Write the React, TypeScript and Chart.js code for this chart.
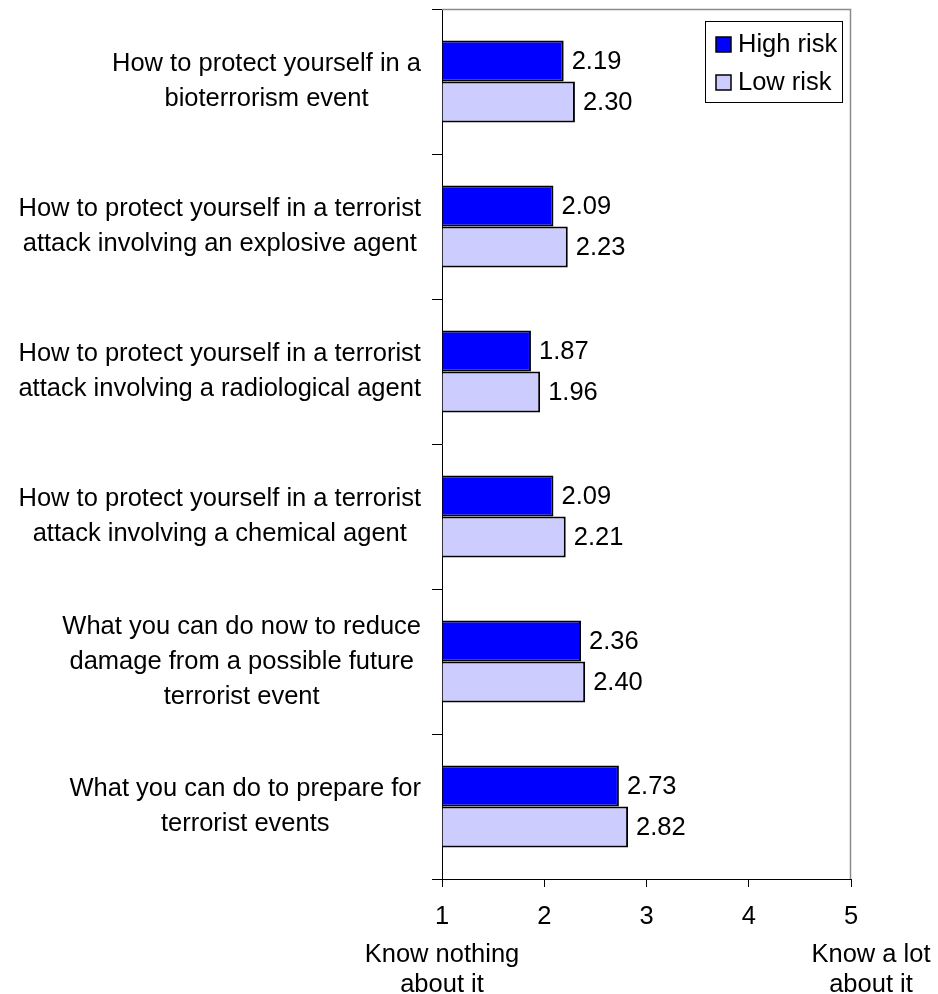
import React, { useEffect, useRef } from "react";
import { Chart, registerables } from "chart.js";

Chart.register(...registerables);

const categories: string[][] = [
  ["How to protect yourself in a", "bioterrorism event"],
  ["How to protect yourself in a terrorist", "attack involving an explosive agent"],
  ["How to protect yourself in a terrorist", "attack involving a radiological agent"],
  ["How to protect yourself in a terrorist", "attack involving a chemical agent"],
  ["What you can do now to reduce", "damage from a possible future", "terrorist event"],
  ["What you can do to prepare for", "terrorist events"],
];

const highRisk = [2.19, 2.09, 1.87, 2.09, 2.36, 2.73];
const lowRisk = [2.3, 2.23, 1.96, 2.21, 2.4, 2.82];

const seriesNames = ["High risk", "Low risk"];
const seriesColors = ["#0000FF", "#CCCCFF"];

const xMin = 1;
const xMax = 5;
const xStep = 1;
const xEndLabelLow = ["Know nothing", "about it"];
const xEndLabelHigh = ["Know a lot", "about it"];

const FONT = '"Liberation Sans", Arial, Helvetica, sans-serif';
const FS = 25.5;

const customPlugin = {
  id: "customDraw",
  beforeDatasetsDraw(chart: any) {
    const { ctx, chartArea } = chart;
    ctx.save();
    ctx.strokeStyle = "#8c8c8c";
    ctx.lineWidth = 1.5;
    ctx.beginPath();
    ctx.moveTo(chartArea.left, chartArea.top + 0.5);
    ctx.lineTo(chartArea.right - 0.5, chartArea.top + 0.5);
    ctx.lineTo(chartArea.right - 0.5, chartArea.bottom);
    ctx.stroke();
    ctx.restore();
  },
  afterDatasetsDraw(chart: any) {
    const { ctx } = chart;
    ctx.save();
    ctx.font = `${FS}px ${FONT}`;
    ctx.fillStyle = "#000";
    ctx.textAlign = "left";
    ctx.textBaseline = "middle";
    chart.data.datasets.forEach((ds: any, di: number) => {
      const meta = chart.getDatasetMeta(di);
      meta.data.forEach((el: any, i: number) => {
        ctx.fillText((ds.data[i] as number).toFixed(2), el.x + 8, el.y + 1);
      });
    });
    ctx.restore();
  },
  afterDraw(chart: any) {
    const { ctx, chartArea } = chart;
    const yScale = chart.scales.y;
    const xScale = chart.scales.x;
    ctx.save();
    ctx.font = `${FS}px ${FONT}`;
    ctx.fillStyle = "#000";
    ctx.textBaseline = "middle";
    ctx.textAlign = "center";
    // category labels
    categories.forEach((lines, i) => {
      const maxW = Math.max(...lines.map((l) => ctx.measureText(l).width));
      const cx = chartArea.left - 21 - maxW / 2;
      const cy = yScale.getPixelForValue(i);
      const lh = 35;
      const start = cy - ((lines.length - 1) * lh) / 2;
      lines.forEach((l, k) => ctx.fillText(l, cx, start + k * lh));
    });
    // x end labels
    const x1 = xScale.getPixelForValue(xMin);
    const x5 = xScale.getPixelForValue(xMax) + 20;
    xEndLabelLow.forEach((l, k) => ctx.fillText(l, x1, chartArea.bottom + 76 + k * 30));
    xEndLabelHigh.forEach((l, k) => ctx.fillText(l, x5, chartArea.bottom + 76 + k * 30));
    // legend
    const bx = chartArea.right - 146;
    const by = chartArea.top + 12;
    ctx.fillStyle = "#fff";
    ctx.fillRect(bx, by, 137, 81);
    ctx.strokeStyle = "#000";
    ctx.lineWidth = 1;
    ctx.strokeRect(bx + 0.5, by + 0.5, 137, 81);
    const rows = [by + 23, by + 61];
    seriesNames.forEach((name, k) => {
      ctx.fillStyle = seriesColors[k];
      ctx.fillRect(bx + 11, rows[k] - 7, 15, 15);
      ctx.strokeStyle = "#000";
      ctx.lineWidth = 1.5;
      ctx.strokeRect(bx + 11, rows[k] - 7, 15, 15);
      ctx.fillStyle = "#000";
      ctx.textAlign = "left";
      ctx.fillText(name, bx + 33, rows[k] + 1);
    });
    ctx.restore();
  },
};

export default function App() {
  const canvasRef = useRef<HTMLCanvasElement | null>(null);

  useEffect(() => {
    document.body.style.margin = "0";
    const canvas = canvasRef.current;
    if (!canvas) return;
    const chart = new Chart(canvas, {
      type: "bar",
      data: {
        labels: categories as any,
        datasets: [
          {
            label: seriesNames[0],
            data: highRisk,
            backgroundColor: seriesColors[0],
            borderColor: "#000",
            borderWidth: 2,
            base: xMin,
          } as any,
          {
            label: seriesNames[1],
            data: lowRisk,
            backgroundColor: seriesColors[1],
            borderColor: "#000",
            borderWidth: 2,
            base: xMin,
          } as any,
        ],
      },
      options: {
        indexAxis: "y",
        responsive: false,
        animation: false,
        devicePixelRatio: 1,
        layout: { padding: { left: 0, right: 87, top: 9, bottom: 0 } },
        datasets: {
          bar: { categoryPercentage: 0.565, barPercentage: 1 },
        } as any,
        plugins: {
          legend: { display: false },
          tooltip: { enabled: false },
        },
        scales: {
          x: {
            type: "linear",
            min: xMin,
            max: xMax,
            ticks: {
              stepSize: xStep,
              color: "#000",
              padding: 15,
              font: { family: FONT, size: FS },
            },
            grid: {
              drawOnChartArea: false,
              drawTicks: true,
              tickLength: 8,
              color: "#000",
            },
            border: { display: true, color: "#000", width: 1 },
            afterFit: (s: any) => {
              s.height = 115;
            },
          },
          y: {
            type: "category",
            offset: true,
            ticks: { display: false },
            grid: {
              drawOnChartArea: false,
              drawTicks: true,
              tickLength: 10,
              color: "#000",
              offset: true,
            },
            border: { display: true, color: "#000", width: 1 },
            afterFit: (s: any) => {
              s.width = 442;
            },
          },
        },
      },
      plugins: [customPlugin],
    });
    return () => chart.destroy();
  }, []);

  return (
    <div style={{ width: 938, height: 994, position: "relative" }}>
      <canvas ref={canvasRef} width={938} height={994} style={{ display: "block" }} />
    </div>
  );
}
